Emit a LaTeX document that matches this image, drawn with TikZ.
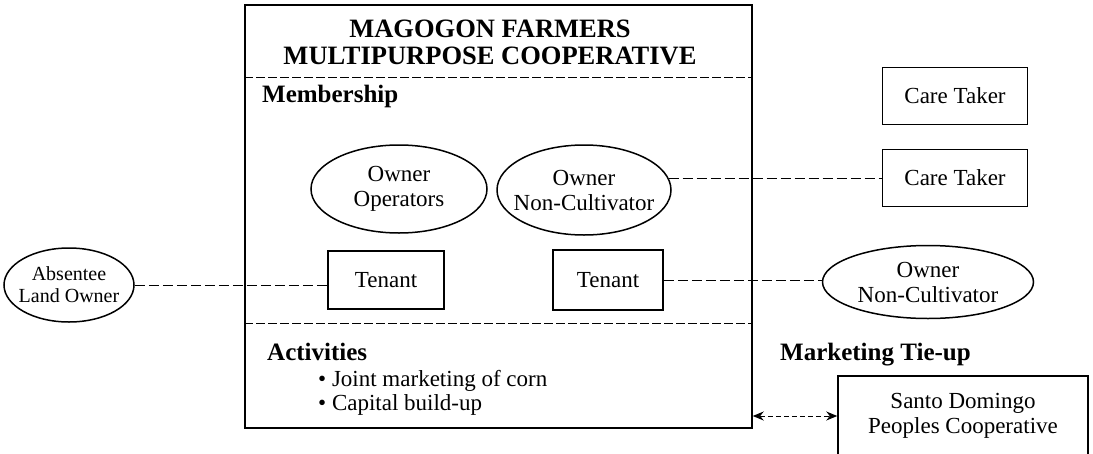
\documentclass[tikz,border=0pt]{standalone}
\usepackage{fontspec}
\setmainfont{Liberation Serif}
\usetikzlibrary{shapes.geometric,arrows.meta}

\begin{document}
\begin{tikzpicture}[x=1pt,y=-1pt,
    role_box/.style={draw,rectangle,line width=1.5pt,inner sep=2pt,align=center,font=\fontsize{23}{25}\selectfont},
    role_ell/.style={draw,ellipse,line width=1.5pt,inner ysep=0pt,inner xsep=-14pt,align=center,font=\fontsize{23}{25}\selectfont},
    head_text/.style={anchor=west,inner sep=0pt,font=\fontsize{25}{27}\selectfont\bfseries}]

    \useasboundingbox (0,0) rectangle (1093,453);

    \node[draw,line width=1.5pt,minimum width=507,minimum height=423,inner sep=0pt] (coop) at (498.5,216.5) {};
    \node[align=center,font=\fontsize{26.5}{27}\selectfont\bfseries] (title) at (490,42) {MAGOGON FARMERS\\MULTIPURPOSE COOPERATIVE};
    \node[head_text] (memb) at (262,96) {Membership};
    \node[head_text] (acts) at (267,352) {Activities};
    \node[anchor=west,inner sep=0pt,align=left,font=\fontsize{23}{24}\selectfont] (acts_list) at (318,393)
        {\textbullet\ Joint marketing of corn\\\textbullet\ Capital build-up};
    \node[head_text] (mkt) at (780,355) {Marketing Tie-up};

    \node[role_ell,minimum width=176,minimum height=88] (own_op) at (399,189) {Owner\\Operators};
    \node[role_ell,minimum width=174,minimum height=90] (own_nc) at (584,190) {Owner\\Non-Cultivator};
    \node[role_box,minimum width=116,minimum height=58] (tenant_a) at (386,280) {Tenant};
    \node[role_box,minimum width=110,minimum height=60] (tenant_b) at (608,280) {Tenant};
    \node[role_ell,minimum width=130,minimum height=74,inner xsep=-24pt,font=\fontsize{20}{22}\selectfont] (absentee) at (69,285) {Absentee\\Land Owner};
    \node[role_ell,minimum width=211,minimum height=73] (own_nc_out) at (928,282) {Owner\\Non-Cultivator};
    \node[role_box,minimum width=145,minimum height=57] (care_a) at (955,96) {Care Taker};
    \node[role_box,minimum width=145,minimum height=57] (care_b) at (955,178) {Care Taker};
    \node[role_box,minimum width=250,minimum height=80] (santo) at (963,416) {Santo Domingo\\Peoples Cooperative};

    \begin{scope}[every path/.style={line width=1pt,dash pattern=on 9pt off 3pt}]
    \draw (coop.west |- 0,77) -- (coop.east |- 0,77);
    \draw (coop.west |- 0,323) -- (coop.east |- 0,323);
    \end{scope}

    \begin{scope}[every path/.style={line width=1pt,dash pattern=on 10pt off 4pt}]
    \draw (absentee.east) -- (absentee.east -| tenant_a.west);
    \draw (tenant_b.east) -- (tenant_b.east -| own_nc_out.west);
    \draw (own_nc.8) -- (care_b.west |- own_nc.8);
    \end{scope}

    \draw[line width=1pt,dash pattern=on 5pt off 3pt,{Stealth[length=11pt,width=9pt]}-{Stealth[length=11pt,width=9pt]}]
        (coop.east |- santo.west) -- (santo.west);
\end{tikzpicture}
\end{document}
